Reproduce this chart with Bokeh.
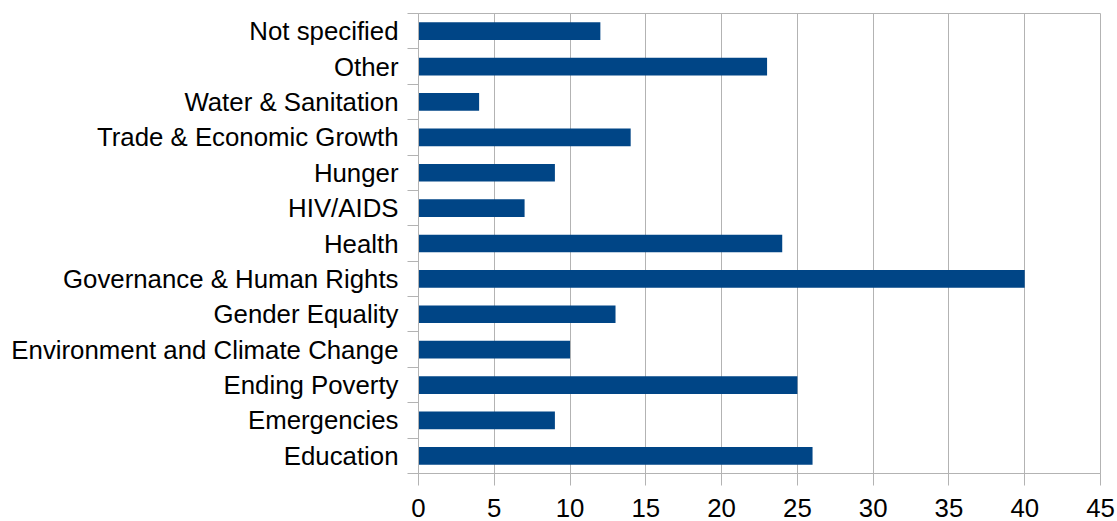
from bokeh.plotting import figure
from bokeh.models import FixedTicker, Range1d, ColumnDataSource
from bokeh.embed import file_html
from bokeh.resources import INLINE

categories = ["Education", "Emergencies", "Ending Poverty", "Environment and Climate Change",
              "Gender Equality", "Governance & Human Rights", "Health", "HIV/AIDS", "Hunger",
              "Trade & Economic Growth", "Water & Sanitation", "Other", "Not specified"]
values = [26, 9, 25, 10, 13, 40, 24, 7, 9, 14, 4, 23, 12]
x_ticks = [0, 5, 10, 15, 20, 25, 30, 35, 40, 45]

pos = list(range(len(categories)))
src = ColumnDataSource(dict(y=pos, v=values))

FONT = "Liberation Sans"
FS = "25.8px"
GRID = "#b3b3b3"

p = figure(width=1117, height=521, output_backend="svg", toolbar_location=None,
           x_range=Range1d(0, 45), y_range=Range1d(-0.5, len(categories) - 0.5),
           min_border_left=418, min_border_right=17, min_border_top=13, min_border_bottom=48)

p.hbar(y="y", right="v", left=0, height=0.5, source=src, color="#004586", line_color=None)

p.outline_line_color = GRID
p.outline_line_width = 1
p.background_fill_color = "white"
p.border_fill_color = "white"

# x axis
p.xaxis.ticker = FixedTicker(ticks=x_ticks)
p.xaxis.axis_line_color = GRID
p.xaxis.major_tick_line_color = GRID
p.xaxis.major_tick_out = 12
p.xaxis.major_tick_in = 0
p.xaxis.minor_tick_line_color = None
p.xaxis.major_label_standoff = 13
p.xaxis.major_label_text_font = FONT
p.xaxis.major_label_text_font_size = FS
p.xaxis.major_label_text_color = "black"
p.xgrid.grid_line_color = GRID
p.xgrid.ticker = FixedTicker(ticks=x_ticks)

# y axis: labels at centers, ticks at boundaries
bounds = [i - 0.5 for i in range(len(categories) + 1)]
p.yaxis.ticker = FixedTicker(ticks=pos, minor_ticks=bounds)
p.yaxis.major_label_overrides = {i: c for i, c in enumerate(categories)}
p.yaxis.axis_line_color = GRID
p.yaxis.major_tick_line_color = None
p.yaxis.major_tick_out = 0
p.yaxis.major_tick_in = 0
p.yaxis.minor_tick_line_color = GRID
p.yaxis.minor_tick_out = 11
p.yaxis.minor_tick_in = 0
p.yaxis.major_label_standoff = 9
p.yaxis.major_label_text_font = FONT
p.yaxis.major_label_text_font_size = FS
p.yaxis.major_label_text_color = "black"
p.ygrid.grid_line_color = None

open("out.html", "w").write(file_html(p, INLINE))
